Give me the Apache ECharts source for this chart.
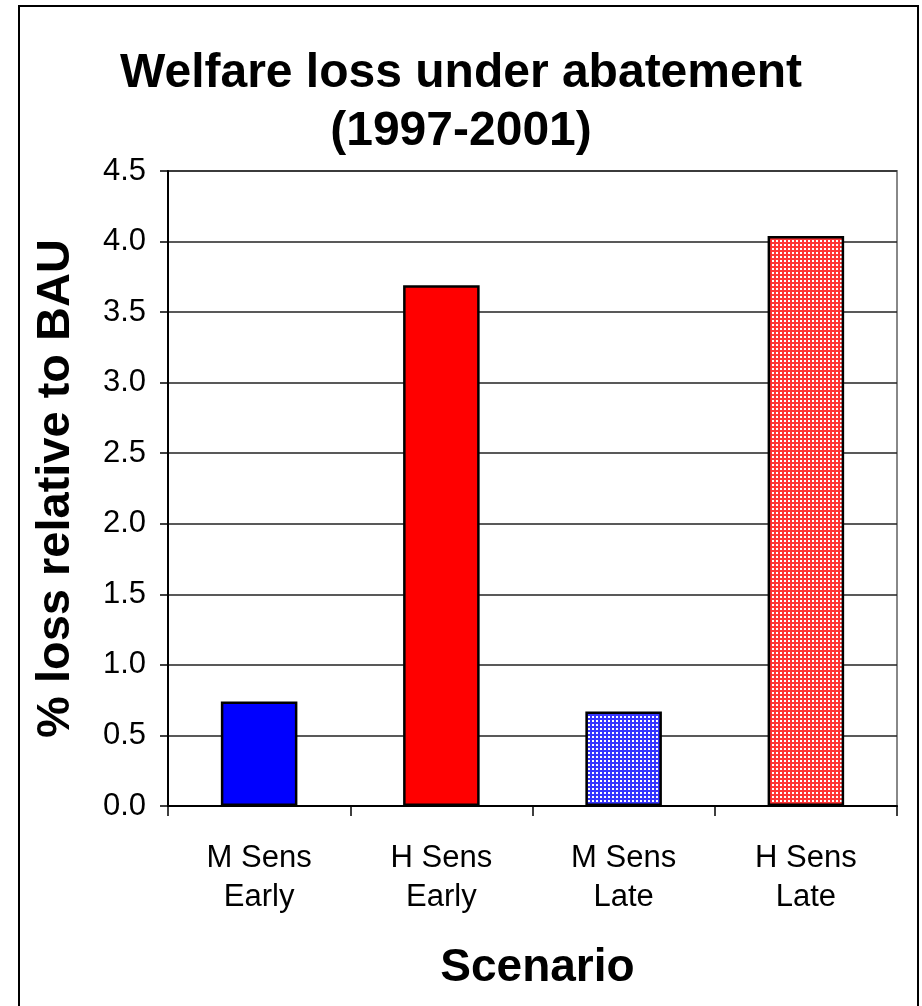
<!DOCTYPE html>
<html>
<head>
<meta charset="utf-8">
<script src="https://cdn.jsdelivr.net/npm/echarts@6/dist/echarts.min.js"></script>
<style>
  html, body { margin: 0; padding: 0; background: #fff; overflow: hidden; }
  #chart { width: 922px; height: 1006px; }
  #frame { position: absolute; left: 18px; top: 5px; width: 901px; height: 1020px; border: 2px solid #000; box-sizing: border-box; pointer-events: none; }
</style>
</head>
<body>
<div id="chart"></div>
<div id="frame"></div>
<script>
// Scenario categories and welfare loss (% relative to BAU)
const categories = ['M Sens\nEarly', 'H Sens\nEarly', 'M Sens\nLate', 'H Sens\nLate'];
const lossValues = [0.74, 3.69, 0.67, 4.04];
const yTicks = [0, 0.5, 1.0, 1.5, 2.0, 2.5, 3.0, 3.5, 4.0, 4.5];

// Dotted fill: base colour with a regular grid of small white squares
function dotPattern(color) {
  const c = document.createElement('canvas');
  c.width = 4; c.height = 4;
  const ctx = c.getContext('2d');
  ctx.fillStyle = color;
  ctx.fillRect(0, 0, 4, 4);
  ctx.fillStyle = '#ffffff';
  ctx.fillRect(0, 0, 2, 2);
  return c;
}

const FONT = 'Liberation Sans, Arial, sans-serif';

const barColors = [
  '#0000ff',
  '#ff0000',
  { image: dotPattern('#3535ff'), repeat: 'repeat' },
  { image: dotPattern('#ff3535'), repeat: 'repeat' }
];

const chart = echarts.init(document.getElementById('chart'), null, { renderer: 'canvas' });
chart.setOption({
  animation: false,
  backgroundColor: '#fff',
  title: {
    text: 'Welfare loss under abatement\n(1997-2001)',
    left: 'center',
    top: 40,
    textStyle: { fontFamily: FONT, fontWeight: 'bold', fontSize: 48, lineHeight: 58, color: '#000' }
  },
  grid: {
    left: 168, right: 25, top: 171, bottom: 200,
    show: true, borderColor: '#888', borderWidth: 2, backgroundColor: 'transparent'
  },
  xAxis: {
    type: 'category',
    data: categories,
    name: 'Scenario',
    nameLocation: 'middle',
    nameGap: 139,
    nameTextStyle: { fontFamily: FONT, fontWeight: 'bold', fontSize: 46, color: '#000', padding: [0, 0, 0, 10] },
    axisLine: { lineStyle: { color: '#000', width: 2 } },
    axisTick: { show: true, length: 10, lineStyle: { color: '#000', width: 1.5 } },
    axisLabel: { fontFamily: FONT, fontSize: 31, color: '#000', margin: 33, lineHeight: 39 }
  },
  yAxis: {
    type: 'value',
    min: 0, max: 4.5, interval: 0.5,
    name: '% loss relative to BAU',
    nameLocation: 'middle',
    nameGap: 88,
    nameRotate: 90,
    nameTextStyle: { fontFamily: FONT, fontWeight: 'bold', fontSize: 47, color: '#000' },
    axisLine: { show: true, lineStyle: { color: '#000', width: 2 } },
    axisTick: { show: true, length: 8, lineStyle: { color: '#000', width: 1.5 } },
    axisLabel: {
      fontFamily: FONT, fontSize: 31, color: '#000', margin: 22,
      formatter: v => yTicks.includes(v) ? v.toFixed(1) : ''
    },
    splitLine: { show: true, lineStyle: { color: '#222', width: 1.5 } }
  },
  series: [{
    type: 'bar',
    data: lossValues.map((v, i) => ({ value: v, itemStyle: { color: barColors[i] } })),
    barWidth: '42%',
    itemStyle: { borderColor: '#000', borderWidth: 2.5 }
  }]
});
</script>
</body>
</html>
